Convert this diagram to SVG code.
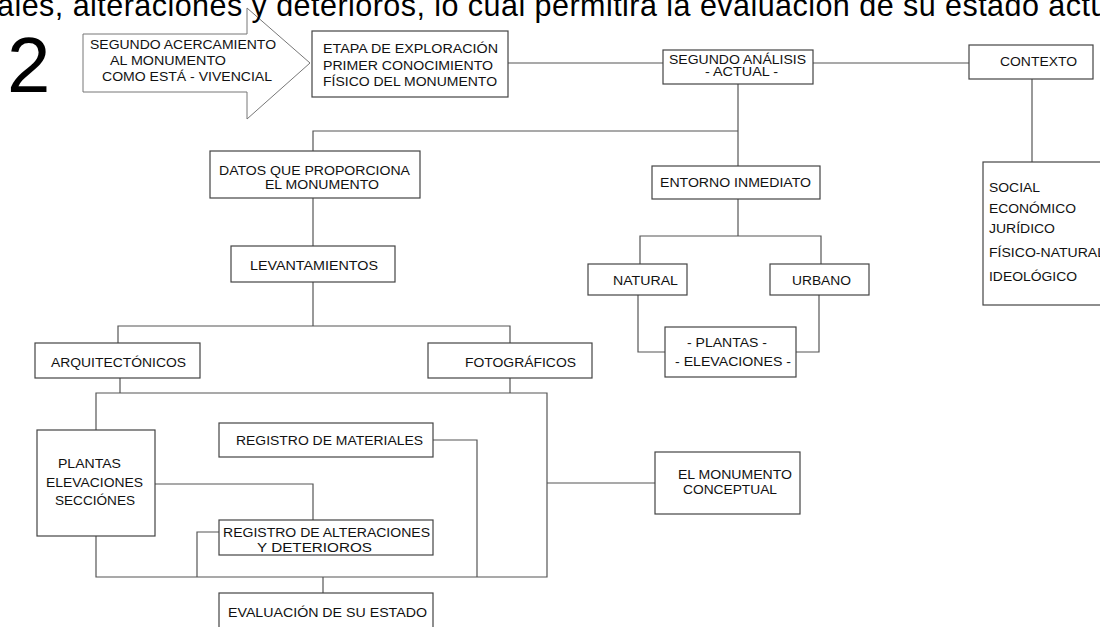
<svg xmlns="http://www.w3.org/2000/svg" width="1100" height="627" viewBox="0 0 1100 627">
<style>
  .bx{fill:#fff;stroke:#444;stroke-width:1.2}
  .ln{fill:none;stroke:#555;stroke-width:1.2}
  .t{font-family:"Liberation Sans",Arial,sans-serif;font-size:12px;fill:#111}
  .hd{font-family:"Liberation Sans",Arial,sans-serif;font-size:30.5px;fill:#000}
  .num{font-family:"Liberation Sans",Arial,sans-serif;font-size:78px;fill:#000}
</style>
<rect width="1100" height="627" fill="#fff"/>
<g id="arrow">
  <path d="M83,34 H247 V8 L310,63 L247,119 V92 H83 Z" fill="#fff" stroke="#777" stroke-width="1"/>
  <text class="t" x="90" y="49" textLength="186" lengthAdjust="spacingAndGlyphs">SEGUNDO ACERCAMIENTO</text>
  <text class="t" x="110" y="65" textLength="116" lengthAdjust="spacingAndGlyphs">AL MONUMENTO</text>
  <text class="t" x="102" y="81" textLength="170" lengthAdjust="spacingAndGlyphs">COMO ESTÁ - VIVENCIAL</text>
</g>
<text class="hd" x="-3" y="16" textLength="1135" lengthAdjust="spacing">ales, alteraciones y deterioros, lo cual permitirá la evaluación de su estado actual</text>
<text class="num" x="7" y="92">2</text>
<g id="connectors">
  <path class="ln" d="M508,63 H663"/>
  <path class="ln" d="M813,63 H969"/>
  <path class="ln" d="M1032,79 V162"/>
  <path class="ln" d="M738,84 V166"/>
  <path class="ln" d="M738,131 H313 V151"/>
  <path class="ln" d="M313,198 V246"/>
  <path class="ln" d="M313,282 V326"/>
  <path class="ln" d="M118,343 V326 H510 V343"/>
  <path class="ln" d="M120,378 V393"/>
  <path class="ln" d="M510,378 V393"/>
  <path class="ln" d="M96,430 V393 H547 V577 H96 V536"/>
  <path class="ln" d="M155,484 H313 V520"/>
  <path class="ln" d="M433,440 H477 V577"/>
  <path class="ln" d="M219,532 H197 V577"/>
  <path class="ln" d="M323,577 V593"/>
  <path class="ln" d="M547,483 H655"/>
  <path class="ln" d="M738,199 V236"/>
  <path class="ln" d="M640,264 V236 H821 V264"/>
  <path class="ln" d="M638,295 V352 H665"/>
  <path class="ln" d="M819,295 V352 H796"/>
</g>
<g id="etapa">
  <rect class="bx" x="312" y="31" width="196" height="66"/>
  <text class="t" x="323" y="53" textLength="175" lengthAdjust="spacingAndGlyphs">ETAPA DE EXPLORACIÓN</text>
  <text class="t" x="323" y="70" textLength="170" lengthAdjust="spacingAndGlyphs">PRIMER CONOCIMIENTO</text>
  <text class="t" x="323" y="86" textLength="174" lengthAdjust="spacingAndGlyphs">FÍSICO DEL MONUMENTO</text>
</g>
<g id="segundo-analisis">
  <rect class="bx" x="663" y="50" width="150" height="34"/>
  <text class="t" x="669" y="64" textLength="137" lengthAdjust="spacingAndGlyphs">SEGUNDO ANÁLISIS</text>
  <text class="t" x="705" y="76" textLength="73" lengthAdjust="spacingAndGlyphs">- ACTUAL -</text>
</g>
<g id="contexto">
  <rect class="bx" x="969" y="45" width="124" height="34"/>
  <text class="t" x="1000" y="66" textLength="77" lengthAdjust="spacingAndGlyphs">CONTEXTO</text>
</g>
<g id="contexto-lista">
  <rect class="bx" x="983" y="162" width="130" height="143"/>
  <text class="t" x="989" y="192" textLength="51" lengthAdjust="spacingAndGlyphs">SOCIAL</text>
  <text class="t" x="989" y="213" textLength="87" lengthAdjust="spacingAndGlyphs">ECONÓMICO</text>
  <text class="t" x="989" y="233" textLength="66" lengthAdjust="spacingAndGlyphs">JURÍDICO</text>
  <text class="t" x="989" y="257" textLength="116" lengthAdjust="spacingAndGlyphs">FÍSICO-NATURAL</text>
  <text class="t" x="989" y="281" textLength="88" lengthAdjust="spacingAndGlyphs">IDEOLÓGICO</text>
</g>
<g id="entorno">
  <rect class="bx" x="652" y="166" width="168" height="33"/>
  <text class="t" x="660" y="187" textLength="151" lengthAdjust="spacingAndGlyphs">ENTORNO INMEDIATO</text>
</g>
<g id="natural">
  <rect class="bx" x="588" y="264" width="99" height="31"/>
  <text class="t" x="613" y="285" textLength="65" lengthAdjust="spacingAndGlyphs">NATURAL</text>
</g>
<g id="urbano">
  <rect class="bx" x="770" y="264" width="99" height="31"/>
  <text class="t" x="792" y="285" textLength="59" lengthAdjust="spacingAndGlyphs">URBANO</text>
</g>
<g id="plantas-elevaciones">
  <rect class="bx" x="665" y="327" width="131" height="50"/>
  <text class="t" x="687" y="347" textLength="80" lengthAdjust="spacingAndGlyphs">- PLANTAS -</text>
  <text class="t" x="675" y="366" textLength="116" lengthAdjust="spacingAndGlyphs">- ELEVACIONES -</text>
</g>
<g id="datos">
  <rect class="bx" x="210" y="151" width="210" height="47"/>
  <text class="t" x="219" y="175" textLength="191" lengthAdjust="spacingAndGlyphs">DATOS QUE PROPORCIONA</text>
  <text class="t" x="265" y="189" textLength="114" lengthAdjust="spacingAndGlyphs">EL MONUMENTO</text>
</g>
<g id="levantamientos">
  <rect class="bx" x="231" y="246" width="164" height="36"/>
  <text class="t" x="250" y="270" textLength="128" lengthAdjust="spacingAndGlyphs">LEVANTAMIENTOS</text>
</g>
<g id="arquitectonicos">
  <rect class="bx" x="35" y="343" width="165" height="35"/>
  <text class="t" x="51" y="367" textLength="135" lengthAdjust="spacingAndGlyphs">ARQUITECTÓNICOS</text>
</g>
<g id="fotograficos">
  <rect class="bx" x="428" y="343" width="164" height="35"/>
  <text class="t" x="465" y="367" textLength="111" lengthAdjust="spacingAndGlyphs">FOTOGRÁFICOS</text>
</g>
<g id="plantas">
  <rect class="bx" x="37" y="430" width="118" height="106"/>
  <text class="t" x="58" y="468" textLength="63" lengthAdjust="spacingAndGlyphs">PLANTAS</text>
  <text class="t" x="46" y="487" textLength="97" lengthAdjust="spacingAndGlyphs">ELEVACIONES</text>
  <text class="t" x="55" y="505" textLength="80" lengthAdjust="spacingAndGlyphs">SECCIÓNES</text>
</g>
<g id="registro-materiales">
  <rect class="bx" x="219" y="423" width="214" height="34"/>
  <text class="t" x="236" y="445" textLength="187" lengthAdjust="spacingAndGlyphs">REGISTRO DE MATERIALES</text>
</g>
<g id="registro-alteraciones">
  <rect class="bx" x="219" y="520" width="214" height="35"/>
  <text class="t" x="223" y="537" textLength="207" lengthAdjust="spacingAndGlyphs">REGISTRO DE ALTERACIONES</text>
  <text class="t" x="257" y="552" textLength="115" lengthAdjust="spacingAndGlyphs">Y DETERIOROS</text>
</g>
<g id="evaluacion">
  <rect class="bx" x="219" y="593" width="214" height="40"/>
  <text class="t" x="228" y="617" textLength="199" lengthAdjust="spacingAndGlyphs">EVALUACIÓN DE SU ESTADO</text>
</g>
<g id="monumento-conceptual">
  <rect class="bx" x="655" y="452" width="145" height="62"/>
  <text class="t" x="678" y="479" textLength="114" lengthAdjust="spacingAndGlyphs">EL MONUMENTO</text>
  <text class="t" x="683" y="494" textLength="94" lengthAdjust="spacingAndGlyphs">CONCEPTUAL</text>
</g>
</svg>
